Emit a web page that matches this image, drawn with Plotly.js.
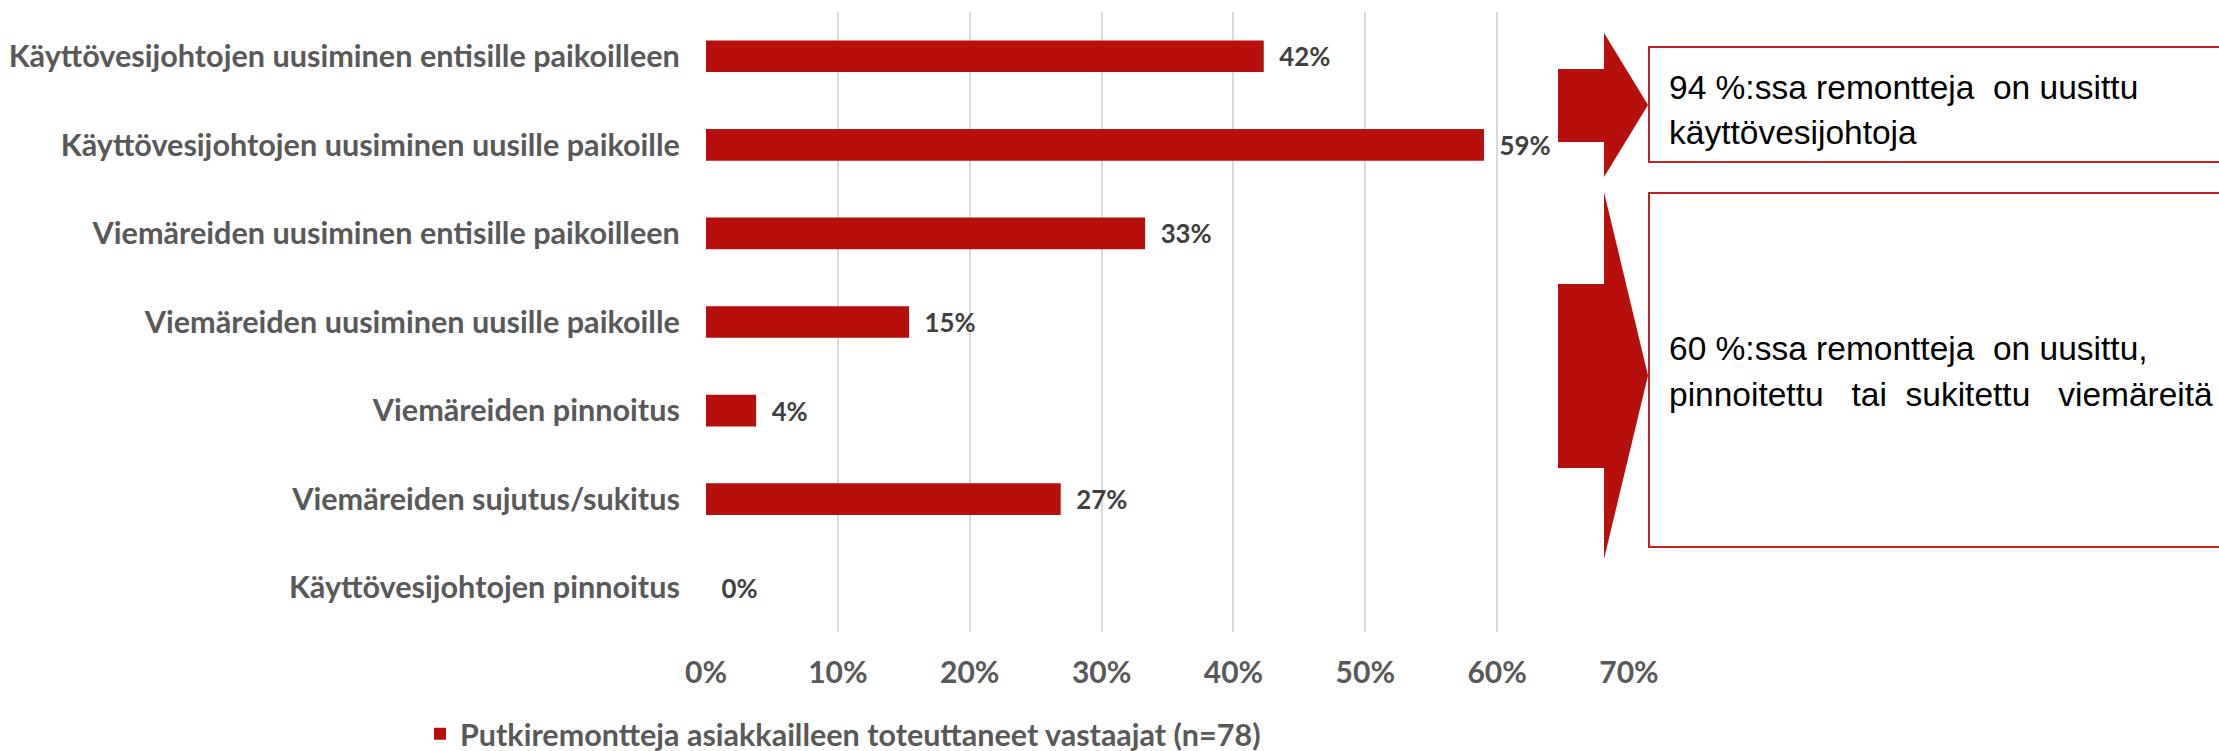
<!DOCTYPE html>
<html>
<head>
<meta charset="utf-8">
<script src="https://cdn.plot.ly/plotly-3.0.1.min.js"></script>
<style>
  html, body { margin: 0; padding: 0; background: #ffffff; }
  #chart { width: 2219px; height: 751px; }
</style>
</head>
<body>
<div id="chart"></div>
<script>
// ---- data ----
const categories = [
  "Käyttövesijohtojen uusiminen entisille paikoilleen",
  "Käyttövesijohtojen uusiminen uusille paikoille",
  "Viemäreiden uusiminen entisille paikoilleen",
  "Viemäreiden uusiminen uusille paikoille",
  "Viemäreiden pinnoitus",
  "Viemäreiden sujutus/sukitus",
  "Käyttövesijohtojen pinnoitus"
];
const values = [42.3, 59.0, 33.3, 15.4, 3.8, 26.9, 0];
const seriesName = "Putkiremontteja asiakkailleen toteuttaneet vastaajat (n=78)";
const tickValues = [0, 10, 20, 30, 40, 50, 60, 70];
const tickLabels = ["0%", "10%", "20%", "30%", "40%", "50%", "60%", "70%"];
const calloutLines = [
  ["94 %:ssa remontteja&#160; on uusittu", "käyttövesijohtoja"],
  ["60 %:ssa remontteja&#160; on uusittu,", "pinnoitettu&#160;&#160; tai&#160; sukitettu&#160;&#160; viemäreitä"]
];

// ---- layout geometry (pixels) ----
const W = 2219, H = 751;
const M = { l: 706, r: 590, t: 12, b: 119, autoexpand: false };
const PW = W - M.l - M.r, PH = H - M.t - M.b;
const px = x => (x - M.l) / PW;
const py = y => (H - M.b - y) / PH;

const RED = "#B70F0B";
const FONT = "Lato, 'Open Sans', sans-serif";
const BOXFONT = "'Liberation Sans', Arial, sans-serif";

function arrowPath(x0, xb, xt, sy0, sy1, hy0, hy1) {
  const ty = (hy0 + hy1) / 2;
  return "M" + px(x0) + "," + py(sy0) +
    " L" + px(xb) + "," + py(sy0) +
    " L" + px(xb) + "," + py(hy0) +
    " L" + px(xt) + "," + py(ty) +
    " L" + px(xb) + "," + py(hy1) +
    " L" + px(xb) + "," + py(sy1) +
    " L" + px(x0) + "," + py(sy1) + " Z";
}

const trace = {
  type: "bar",
  orientation: "h",
  y: categories,
  x: values,
  name: seriesName,
  marker: { color: RED },
  texttemplate: "\u00A0\u00A0%{x:.0f}%",
  textposition: "outside",
  cliponaxis: false,
  textfont: { family: FONT, size: 31, color: "#404040", weight: 700 },
  hoverinfo: "skip",
  showlegend: true
};

const lineY = [[88, 132], [348, 395]];
const annotations = [];
calloutLines.forEach((lines, i) => {
  lines.forEach((t, j) => {
    annotations.push({
      xref: "paper", yref: "paper", x: px(1667), y: py(lineY[i][j]),
      xanchor: "left", yanchor: "middle", align: "left", showarrow: false,
      text: t,
      font: { family: BOXFONT, size: 33.5, color: "#000000" }
    });
  });
});

const layout = {
  width: W, height: H,
  margin: M,
  paper_bgcolor: "#ffffff",
  plot_bgcolor: "#ffffff",
  bargap: 0.643,
  xaxis: {
    range: [0, 70],
    tickvals: tickValues,
    ticktext: tickLabels,
    showgrid: true,
    gridcolor: "#D9D9D9",
    gridwidth: 2,
    zeroline: false,
    showline: false,
    automargin: false,
    ticks: "outside",
    ticklen: 14,
    tickcolor: "rgba(0,0,0,0)",
    tickfont: { family: FONT, size: 30, color: "#595959", weight: 700 },
    fixedrange: true
  },
  yaxis: {
    type: "category",
    autorange: "reversed",
    showgrid: false,
    zeroline: false,
    showline: false,
    automargin: false,
    ticks: "outside",
    ticklen: 19,
    tickcolor: "rgba(0,0,0,0)",
    tickfont: { family: FONT, size: 30.6, color: "#595959", weight: 700 },
    fixedrange: true
  },
  showlegend: true,
  legend: {
    orientation: "h",
    x: px(420), xanchor: "left",
    y: py(734), yanchor: "middle",
    font: { family: FONT, size: 30.5, color: "#595959", weight: 700 },
    bgcolor: "rgba(0,0,0,0)"
  },
  shapes: [
    { type: "rect", xref: "paper", yref: "paper",
      x0: px(1649), x1: px(2260), y0: py(47), y1: py(162),
      line: { color: "#C81E1E", width: 2 }, fillcolor: "rgba(0,0,0,0)", layer: "above" },
    { type: "rect", xref: "paper", yref: "paper",
      x0: px(1649), x1: px(2260), y0: py(193), y1: py(547),
      line: { color: "#C81E1E", width: 2 }, fillcolor: "rgba(0,0,0,0)", layer: "above" },
    { type: "path", xref: "paper", yref: "paper",
      path: arrowPath(1558, 1604, 1648, 69, 142, 33, 177),
      fillcolor: RED, line: { width: 0 }, layer: "above" },
    { type: "path", xref: "paper", yref: "paper",
      path: arrowPath(1558, 1604, 1648, 284, 468, 192, 559),
      fillcolor: RED, line: { width: 0 }, layer: "above" }
  ],
  annotations: annotations
};

Plotly.newPlot("chart", [trace], layout, { displayModeBar: false, staticPlot: true });
</script>
</body>
</html>
